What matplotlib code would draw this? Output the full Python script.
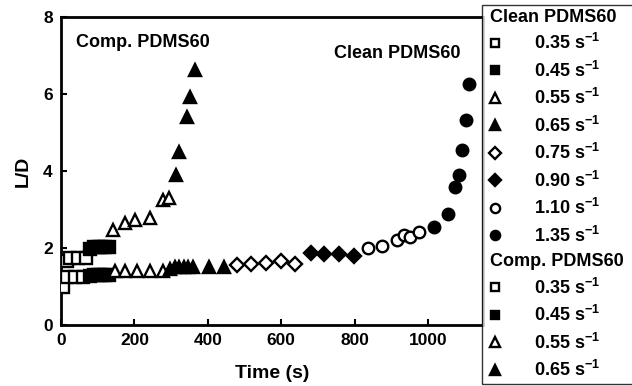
import matplotlib
matplotlib.use("Agg")
import matplotlib.pyplot as plt
from matplotlib.lines import Line2D

plt.rcParams['font.family'] = ['Liberation Sans', 'DejaVu Sans']
plt.rcParams['font.weight'] = 'bold'
plt.rcParams['mathtext.fontset'] = 'custom'
plt.rcParams['mathtext.rm'] = 'Liberation Sans:bold'
plt.rcParams['mathtext.it'] = 'Liberation Sans:bold'
plt.rcParams['mathtext.bf'] = 'Liberation Sans:bold'

# ---- data: Clean PDMS60 ----
clean_035_t = [5, 15, 38, 61]
clean_035_L = [1.0, 1.25, 1.25, 1.25]
clean_045_t = [78, 90, 100, 110, 120, 130]
clean_045_L = [1.28, 1.3, 1.3, 1.3, 1.3, 1.3]
clean_055_t = [147, 175, 206, 243, 279]
clean_055_L = [1.4, 1.4, 1.4, 1.4, 1.4]
clean_065_t = [297, 310, 322, 334, 347, 361, 402, 443]
clean_065_L = [1.45, 1.5, 1.5, 1.5, 1.5, 1.5, 1.5, 1.5]
clean_075_t = [479, 518, 558, 600, 639]
clean_075_L = [1.56, 1.58, 1.6, 1.66, 1.58]
clean_090_t = [680, 718, 758, 798]
clean_090_L = [1.87, 1.85, 1.85, 1.8]
clean_110_t = [836, 874, 916, 934, 952, 975]
clean_110_L = [1.99, 2.04, 2.21, 2.34, 2.29, 2.41]
clean_135_t = [1016, 1054, 1075, 1084, 1093, 1104, 1113]
clean_135_L = [2.55, 2.88, 3.58, 3.9, 4.55, 5.32, 6.25]

# ---- data: Comp. PDMS60 ----
comp_035_t = [15, 24, 47, 68]
comp_035_L = [1.65, 1.73, 1.73, 1.73]
comp_045_t = [78, 90, 100, 110, 120, 130]
comp_045_L = [1.98, 2.03, 2.03, 2.03, 2.03, 2.03]
comp_055_t = [143, 175, 202, 243, 279, 293]
comp_055_L = [2.47, 2.64, 2.73, 2.77, 3.25, 3.31]
comp_065_t = [313, 322, 343, 352, 364]
comp_065_L = [3.9, 4.5, 5.41, 5.93, 6.62]

rates_clean = ['0.35', '0.45', '0.55', '0.65', '0.75', '0.90', '1.10', '1.35']
rates_comp = ['0.35', '0.45', '0.55', '0.65']

x_ticks = [0, 200, 400, 600, 800, 1000]
y_ticks = [0, 2, 4, 6, 8]

fig = plt.figure(figsize=(6.32, 3.86), dpi=100)
ax = fig.add_axes([61/632, 1-325/386, 422/632, 308/386])

styles = [('s', False), ('s', True), ('^', False), ('^', True),
          ('D', False), ('D', True), ('o', False), ('o', True)]
sizes = {'s': 8.0, '^': 9.0, 'D': 7.5, 'o': 8.3}

clean_series = [(clean_035_t, clean_035_L), (clean_045_t, clean_045_L),
                (clean_055_t, clean_055_L), (clean_065_t, clean_065_L),
                (clean_075_t, clean_075_L), (clean_090_t, clean_090_L),
                (clean_110_t, clean_110_L), (clean_135_t, clean_135_L)]
comp_series = [(comp_035_t, comp_035_L), (comp_045_t, comp_045_L),
               (comp_055_t, comp_055_L), (comp_065_t, comp_065_L)]

def plot_series(t, L, st):
    m, filled = st
    ax.plot(t, L, linestyle='none', marker=m, markersize=sizes[m],
            markerfacecolor='black' if filled else 'white',
            markeredgecolor='black', markeredgewidth=1.7, zorder=3)

for (t, L), st in zip(clean_series, styles):
    plot_series(t, L, st)
for (t, L), st in zip(comp_series, styles[:4]):
    plot_series(t, L, st)

ax.set_xlim(0, 1150)
ax.set_ylim(0, 8)
ax.set_xticks(x_ticks)
ax.set_yticks(y_ticks)
ax.tick_params(direction='in', length=4, width=1.5, labelsize=12.5, pad=6)
for lab in ax.get_xticklabels() + ax.get_yticklabels():
    lab.set_fontweight('bold')
for sp in ax.spines.values():
    sp.set_linewidth(2.0)

ax.set_xlabel('Time (s)', fontsize=14, fontweight='bold', labelpad=12)
ax.set_ylabel('L/D', fontsize=14, fontweight='bold', labelpad=8)

ax.text(41, 7.34, 'Comp. PDMS60', fontsize=13, fontweight='bold', va='center', ha='left')
ax.text(745, 7.05, 'Clean PDMS60', fontsize=13, fontweight='bold', va='center', ha='left')

# ---- legend ----
handles, labels = [], []
blank = Line2D([], [], linestyle='none', marker=None)
handles.append(blank); labels.append('Clean PDMS60')
for (m, filled), r in zip(styles, rates_clean):
    handles.append(Line2D([], [], linestyle='none', marker=m, markersize=sizes[m]*0.8,
                          markerfacecolor='black' if filled else 'white',
                          markeredgecolor='black', markeredgewidth=1.7))
    labels.append(r + r' s$^{-1}$')
handles.append(blank); labels.append('Comp. PDMS60')
for (m, filled), r in zip(styles[:4], rates_comp):
    handles.append(Line2D([], [], linestyle='none', marker=m, markersize=sizes[m]*0.8,
                          markerfacecolor='black' if filled else 'white',
                          markeredgecolor='black', markeredgewidth=1.7))
    labels.append(r + r' s$^{-1}$')

leg = fig.legend(handles, labels, loc='upper left',
                 bbox_to_anchor=(482/632, 1-5/386), borderaxespad=0,
                 frameon=True, fancybox=False, edgecolor='black',
                 prop={'size': 13, 'weight': 'bold'},
                 handlelength=1.0, handletextpad=1.7, labelspacing=0.41,
                 borderpad=0.2)
leg.get_frame().set_linewidth(1.0)
texts = leg.get_texts()
for i in (0, 9):
    texts[i].set_x(-44)

fig.savefig('out.png', dpi=100)
